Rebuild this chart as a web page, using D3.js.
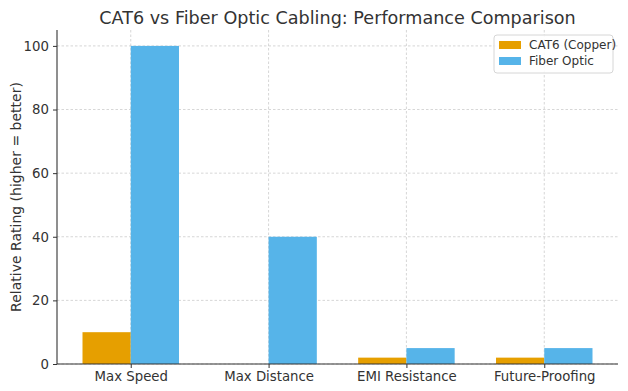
<!DOCTYPE html>
<html><head><meta charset="utf-8">
<script src="https://cdn.jsdelivr.net/npm/d3@7"></script>
<style>body{margin:0;background:#fff}svg{display:block}text{font-family:"DejaVu Sans",sans-serif;fill:#333}</style>
</head><body><svg id="c" width="628" height="391"></svg>
<script>
const categories = ["Max Speed","Max Distance","EMI Resistance","Future-Proofing"];
const cat6Values = [10, 0, 2, 2];
const fiberValues = [100, 40, 5, 5];
const seriesNames = ["CAT6 (Copper)","Fiber Optic"];
const seriesColors = ["#E69F00","#56B4E9"];
const yTicks = [0,20,40,60,80,100];

const svg = d3.select("#c");
const L=57, R=618, T=30, B=364;
const barW = 0.35;
const x = d3.scaleLinear().domain([-0.535, 3.535]).range([L,R]);
const y = d3.scaleLinear().domain([0,105]).range([B,T]);

// grid
const g = svg.append("g");
g.selectAll(".gy").data(yTicks).join("line")
 .attr("x1",L).attr("x2",R).attr("y1",d=>y(d)).attr("y2",d=>y(d))
 .attr("stroke","#cccccc").attr("stroke-width",0.8).attr("stroke-dasharray","2.5,2");
g.selectAll(".gx").data(categories).join("line")
 .attr("x1",(d,i)=>x(i)).attr("x2",(d,i)=>x(i)).attr("y1",T).attr("y2",B)
 .attr("stroke","#cccccc").attr("stroke-width",0.8).attr("stroke-dasharray","2.5,2");

// bars
const series = [cat6Values, fiberValues];
series.forEach((vals,si)=>{
  svg.append("g").selectAll("rect").data(vals).join("rect")
   .attr("x",(d,i)=>x(i + (si===0 ? -barW : 0)))
   .attr("width",x(barW)-x(0))
   .attr("y",d=>y(d)).attr("height",d=>y(0)-y(d))
   .attr("fill",seriesColors[si]);
});

// axes
const xa = svg.append("g").attr("transform",`translate(0,${B})`)
 .call(d3.axisBottom(x).tickValues([0,1,2,3]).tickFormat(i=>categories[i]).tickSize(4).tickPadding(4));
const ya = svg.append("g").attr("transform",`translate(${L},0)`)
 .call(d3.axisLeft(y).tickValues(yTicks).tickSize(4).tickPadding(4));
[xa,ya].forEach(a=>{
  a.select(".domain").attr("stroke","#333").attr("stroke-width",1.1);
  a.selectAll(".tick line").attr("stroke","#333");
  a.selectAll("text").attr("font-size",13.3).attr("fill","#333").style("font-family","DejaVu Sans");
});
xa.select(".domain").attr("d",`M${L},0H${R}`);
ya.select(".domain").attr("d",`M0,${B}V${T}`);

svg.append("text").attr("x",(L+R)/2).attr("y",24).attr("text-anchor","middle")
 .attr("font-size",17.6).text("CAT6 vs Fiber Optic Cabling: Performance Comparison");
svg.append("text").attr("transform",`translate(21,${(T+B)/2}) rotate(-90)`).attr("text-anchor","middle")
 .attr("font-size",14).text("Relative Rating (higher = better)");

// legend
const lg = svg.append("g").attr("transform","translate(494,35)");
lg.append("rect").attr("width",119).attr("height",38).attr("rx",3)
 .attr("fill","white").attr("fill-opacity",0.85).attr("stroke","#d6d6d6");
seriesNames.forEach((n,i)=>{
  lg.append("rect").attr("x",5).attr("y",6+i*16).attr("width",22).attr("height",8).attr("fill",seriesColors[i]);
  lg.append("text").attr("x",35).attr("y",14+i*16).attr("font-size",12).text(n);
});
</script></body></html>
